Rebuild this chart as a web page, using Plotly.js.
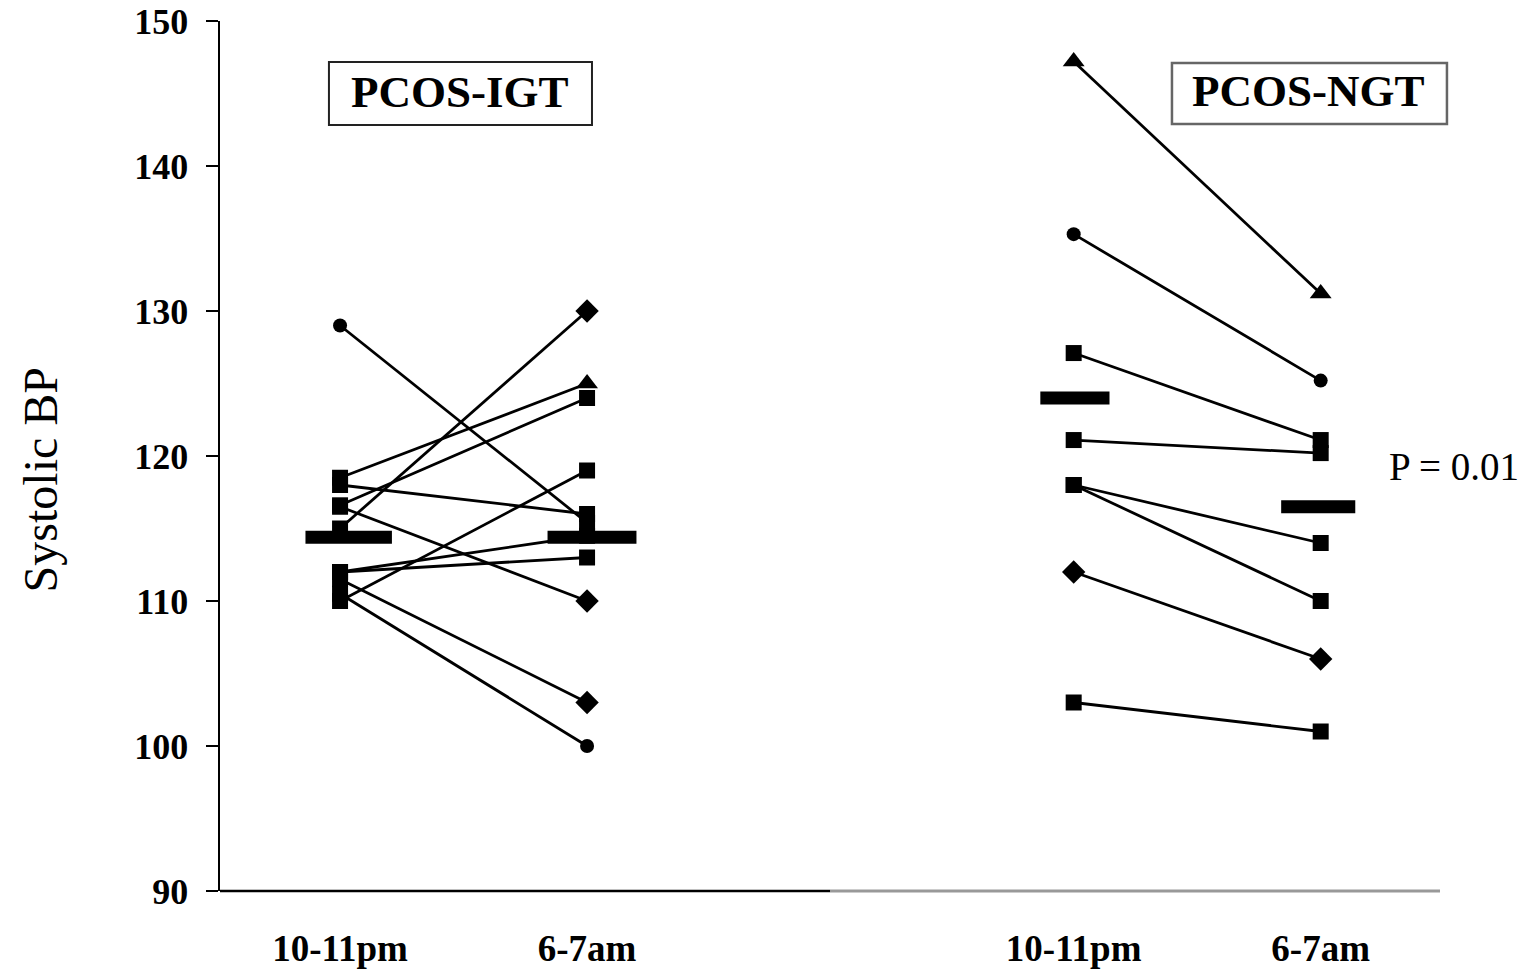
<!DOCTYPE html>
<html>
<head>
<meta charset="utf-8">
<script src="https://cdn.plot.ly/plotly-3.0.1.min.js"></script>
<style>html,body{margin:0;padding:0;background:#fff;}#chart{width:1532px;height:971px;}</style>
</head>
<body>
<div id="chart"></div>
<script>
// Categories (time points) for each group
const timeLabels = ["10-11pm", "6-7am", "10-11pm", "6-7am"];
const groupNames = ["PCOS-IGT", "PCOS-NGT"];

// PCOS-IGT subjects: systolic BP at 10-11pm and 6-7am
const igtEvening = [129, 115, 118.5, 116.6, 110, 118, 116.5, 112, 112, 111.5, 110.5];
const igtMorning = [115.4, 130, 125, 124, 119, 116, 110, 113, 114.5, 103, 100];
const igtSymbols = [["circle","square"],["square","diamond"],["square","triangle-up"],["square","square"],["square","square"],["square","square"],["square","diamond"],["square","square"],["square","square"],["square","diamond"],["square","circle"]];

// PCOS-NGT subjects
const ngtEvening = [147.2, 135.3, 127.1, 121.1, 118, 118, 112, 103];
const ngtMorning = [131.2, 125.2, 121.1, 120.2, 114, 110, 106, 101];
const ngtSymbols = [["triangle-up","triangle-up"],["circle","circle"],["square","square"],["square","square"],["square","square"],["square","square"],["diamond","diamond"],["square","square"]];

// Group mean bars [10-11pm, 6-7am]
const igtMeans = [114.4, 114.4];
const ngtMeans = [124.0, 116.5];

const pValue = "P = 0.01";
const yTicks = [90, 100, 110, 120, 130, 140, 150];

// layout positions of the four time columns
const xPos = [1, 2, 3.97, 4.97];

const traces = [];
function symSize(s){ return s === "triangle-up" ? 19 : (s === "circle" ? 14 : (s === "diamond" ? 18 : 16)); }
function addSubjects(ev, mo, syms, xa, xb){
  for (let i = 0; i < ev.length; i++){
    traces.push({
      type: "scatter", mode: "lines+markers",
      x: [xa, xb], y: [ev[i], mo[i]],
      line: {color: "#000", width: 2.8},
      marker: {color: "#000", symbol: syms[i], size: syms[i].map(symSize), opacity: 1, line: {width: 0}},
      hoverinfo: "skip", showlegend: false, cliponaxis: false
    });
  }
}
addSubjects(igtEvening, igtMorning, igtSymbols, xPos[0], xPos[1]);
addSubjects(ngtEvening, ngtMorning, ngtSymbols, xPos[2], xPos[3]);

const allMeans = [igtMeans[0], igtMeans[1], ngtMeans[0], ngtMeans[1]];
const barL = [0.14, 0.16, 0.135, 0.16];
const barR = [0.21, 0.2, 0.145, 0.14];
allMeans.forEach((m, i) => {
  traces.push({
    type: "scatter", mode: "lines",
    x: [xPos[i] - barL[i], xPos[i] + barR[i]], y: [m, m],
    line: {color: "#000", width: 13},
    hoverinfo: "skip", showlegend: false
  });
});

const serif = "Liberation Serif, Times New Roman, serif";
const layout = {
  width: 1532, height: 971,
  margin: {l: 220, r: 92, t: 21, b: 80},
  paper_bgcolor: "#fff", plot_bgcolor: "#fff",
  showlegend: false,
  xaxis: {
    range: [0.514, 5.453], tickvals: xPos, ticktext: timeLabels,
    showgrid: false, zeroline: false, showline: false, ticks: "",
    tickfont: {family: serif, size: 37, color: "#000", weight: "bold"},
    ticklabelstandoff: 32
  },
  yaxis: {
    range: [90, 150], tickvals: yTicks,
    showgrid: false, zeroline: false, showline: true, linecolor: "#000", linewidth: 2.5,
    ticks: "outside", ticklen: 12, tickwidth: 2, tickcolor: "#000",
    tickfont: {family: serif, size: 36, color: "#000", weight: "bold"},
    ticklabelstandoff: 10
  },
  shapes: [
    {type: "line", xref: "paper", yref: "paper", x0: 0, x1: 0.5, y0: 0, y1: 0, line: {color: "#000", width: 2.5}},
    {type: "line", xref: "paper", yref: "paper", x0: 0.5, x1: 1, y0: 0, y1: 0, line: {color: "#999", width: 3}},
    {type: "rect", xref: "paper", yref: "paper", x0: 0.0893, x1: 0.3049, y0: 0.8805, y1: 0.9529, line: {color: "#222", width: 2}},
    {type: "rect", xref: "paper", yref: "paper", x0: 0.7803, x1: 1.0057, y0: 0.8816, y1: 0.9517, line: {color: "#666", width: 2.5}}
  ],
  annotations: [
    {xref: "paper", yref: "paper", x: 0.1967, y: 0.9184, xanchor: "center", yanchor: "middle", text: groupNames[0], showarrow: false,
     font: {family: serif, size: 45, color: "#000", weight: "bold"}},
    {xref: "paper", yref: "paper", x: 0.8926, y: 0.9195, xanchor: "center", yanchor: "middle", text: groupNames[1], showarrow: false,
     font: {family: serif, size: 45, color: "#000", weight: "bold"}},
    {xref: "paper", yref: "paper", x: 1.0115, y: 0.4885, xanchor: "center", yanchor: "middle", text: pValue, showarrow: false,
     font: {family: serif, size: 39, color: "#000"}},
    {xref: "paper", yref: "paper", x: -0.1475, y: 0.472, xanchor: "center", yanchor: "middle", text: "Systolic BP", showarrow: false, textangle: -90,
     font: {family: serif, size: 48, color: "#000"}}
  ]
};

Plotly.newPlot("chart", traces, layout, {staticPlot: true, displayModeBar: false});
</script>
</body>
</html>
